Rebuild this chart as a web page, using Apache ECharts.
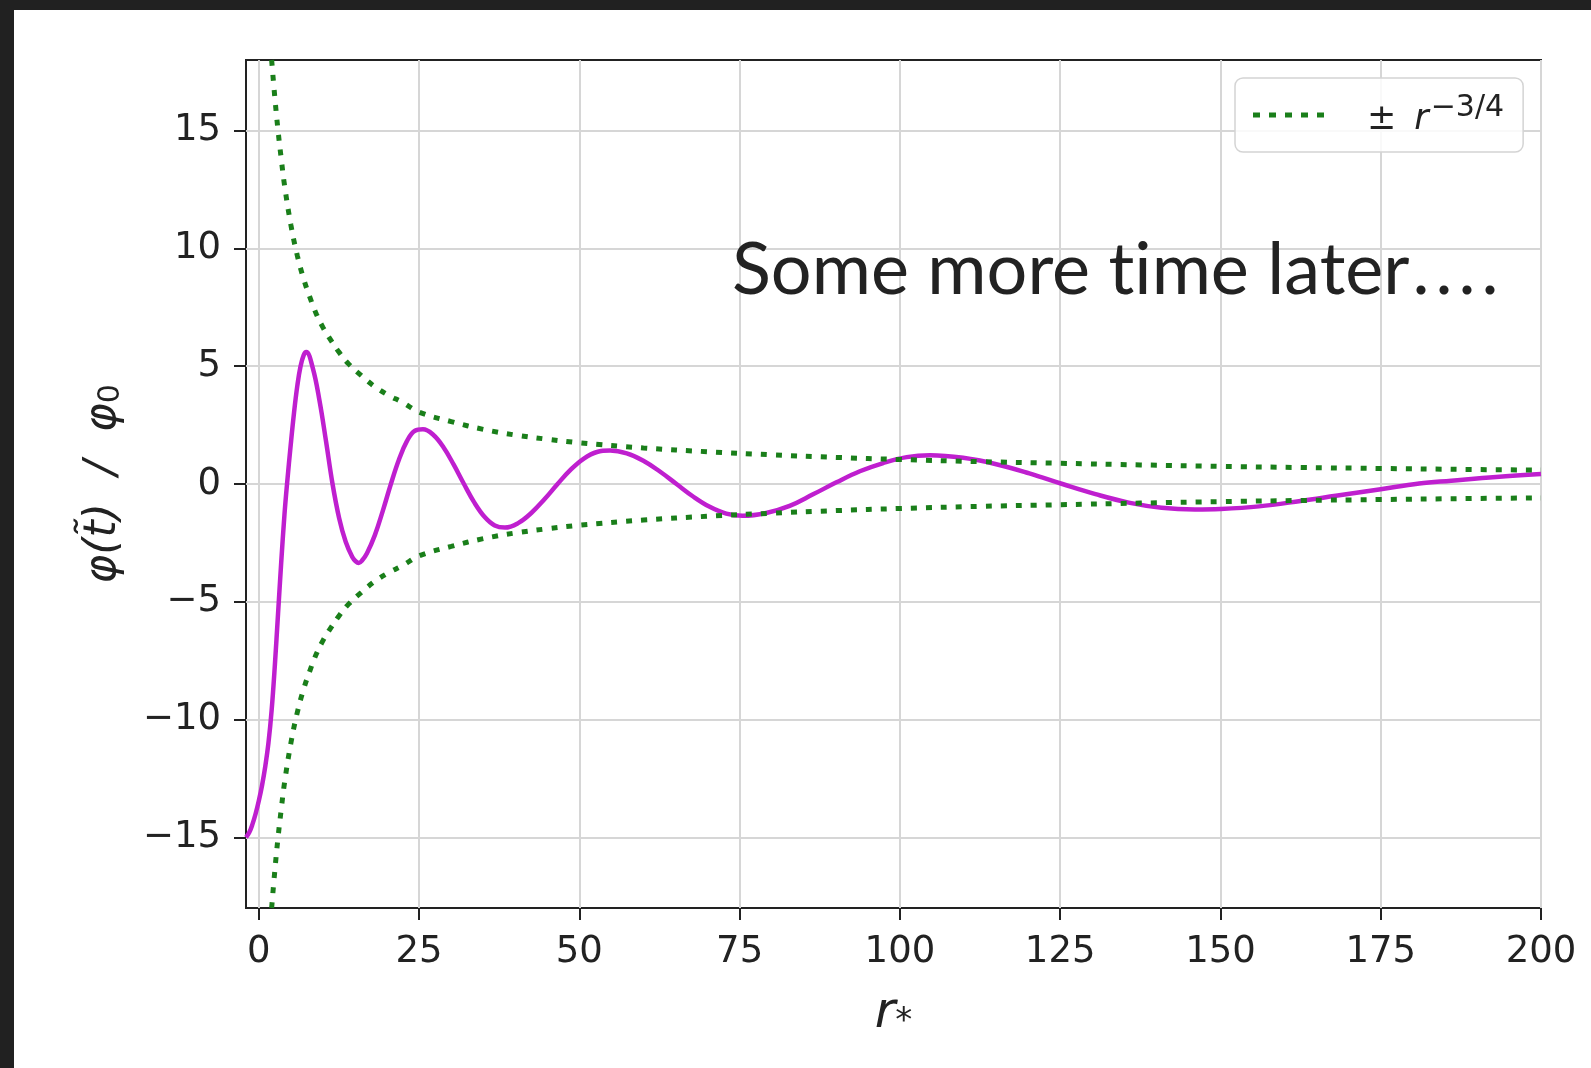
<!DOCTYPE html>
<html>
<head>
<meta charset="utf-8">
<title>phi over r*</title>
<script src="https://cdn.jsdelivr.net/npm/echarts@6.0.0/dist/echarts.min.js"></script>
<style>
  html, body {
    margin: 0;
    padding: 0;
    width: 1591px;
    height: 1068px;
    background: #212121;
    overflow: hidden;
  }
  #main {
    position: absolute;
    left: 14px;
    top: 10px;
    width: 1577px;
    height: 1058px;
    background: #ffffff;
  }
</style>
</head>
<body>
<div id="main"></div>
<script>
// tick positions
const xTicks = [0, 25, 50, 75, 100, 125, 150, 175, 200];
const yTicks = [-15, -10, -5, 0, 5, 10, 15];

// magenta curve
const purpleR = [-2, -1.5, -1, -0.5, 0, 0.5, 1, 1.5, 2, 2.5, 3, 3.5, 4, 4.4, 5, 5.5, 6, 6.5, 7, 7.4,
  8.43, 9.45, 10.48, 11.5, 12.53, 13.55, 14.58, 15.1, 15.6, 16.1,
  16.85, 18.1, 19.35, 20.6, 21.85, 23.1, 24.35, 25.6,
  27.2, 28.8, 30.4, 32.0, 33.6, 35.2, 36.8, 38.4,
  40.45, 42.5, 44.55, 46.6, 48.65, 50.7, 52.75, 54.8,
  57.39, 59.98, 62.56, 65.15, 67.74, 70.33, 72.91, 75.5,
  79.15, 82.8, 86.45, 90.1, 93.75, 97.4, 101.05, 104.7,
  109.86, 115.03, 120.19, 125.35, 130.51, 135.68, 140.84, 146,
  150, 156, 162.5, 168, 175, 181, 186, 193, 200];
const purpleVal = [-15, -14.8, -14.45, -14.0, -13.45, -12.8, -12.0, -11.0, -9.6, -7.7, -5.5, -3.3, -1.3, 0, 1.73, 3.05, 4.16, 4.99, 5.47, 5.6,
  4.91, 3.56, 1.82, 0, -1.45, -2.45, -3.1, -3.28, -3.35, -3.25,
  -2.95, -2.17, -1.13, 0, 1.03, 1.82, 2.26, 2.32,
  2.09, 1.56, 0.82, 0, -0.78, -1.39, -1.76, -1.85,
  -1.66, -1.23, -0.65, 0, 0.61, 1.08, 1.36, 1.42,
  1.3, 0.99, 0.53, 0, -0.53, -0.97, -1.26, -1.35,
  -1.23, -0.93, -0.44, 0.07, 0.54, 0.89, 1.14, 1.22,
  1.11, 0.84, 0.45, 0, -0.43, -0.79, -1.01, -1.08,
  -1.06, -0.95, -0.72, -0.5, -0.22, 0.02, 0.14, 0.3, 0.42];

// green dotted envelope
const greenR = [2, 2.5, 3, 3.5, 4, 5, 6, 7, 8, 9, 10, 11, 12.5, 14, 16, 18, 20, 22.5, 25, 30,
  35, 40, 45, 50, 60, 70, 80, 90, 100, 112.5, 125, 137.5, 150, 162.5, 175, 187.5, 200];
const greenUpper = [18, 16.4, 15, 13.8, 12.7, 11, 9.7, 8.7, 7.9, 7.2, 6.65, 6.2, 5.6, 5.1, 4.6, 4.15, 3.8, 3.45, 3.05, 2.65,
  2.32, 2.08, 1.9, 1.75, 1.53, 1.37, 1.24, 1.13, 1.04, 0.95, 0.88, 0.81, 0.75, 0.7, 0.66, 0.62, 0.59];
const greenLower = [-18, -16.4, -15, -13.8, -12.7, -11, -9.7, -8.7, -7.9, -7.2, -6.65, -6.2, -5.6, -5.1, -4.6, -4.15, -3.8, -3.45, -3.05, -2.65,
  -2.32, -2.08, -1.9, -1.75, -1.53, -1.37, -1.24, -1.13, -1.04, -0.95, -0.88, -0.81, -0.75, -0.7, -0.66, -0.62, -0.59];

const envName = 'env';
const font = 'DejaVu Sans';
const purple = '#bf1fcf';
const green = '#1a7f1a';
const dash = [6, 9];

function pairs(xs, ys) {
  return xs.map((x, i) => [x, ys[i]]);
}

function minusLabel(v) {
  return v < 0 ? '\u2212' + (-v) : String(v);
}

const chart = echarts.init(document.getElementById('main'), null, { renderer: 'canvas' });

const option = {
  animation: false,
  backgroundColor: '#ffffff',
  grid: {
    left: 232,
    top: 50,
    width: 1295,
    height: 848,
    show: true,
    borderColor: '#222',
    borderWidth: 2,
    backgroundColor: 'transparent',
    containLabel: false,
    outerBoundsMode: 'none'
  },
  legend: {
    // legend key drawn as five green dots, like the dotted line
    data: [{ name: envName, icon: 'path://M0,0h7v5h-7zM16,0h7v5h-7zM32,0h7v5h-7zM48,0h7v5h-7zM64,0h7v5h-7z' }],
    left: 1221,
    top: 68,
    orient: 'horizontal',
    itemWidth: 75,
    itemHeight: 5,
    padding: [15, 19, 15, 18],
    backgroundColor: 'rgba(255,255,255,0.85)',
    borderColor: '#d4d4d4',
    borderWidth: 1.5,
    borderRadius: 8,
    selectedMode: false,
    itemStyle: { color: green, borderWidth: 0 },
    formatter: () => '{pm|\u00b1}{r|r}{sup|\u22123/4}',
    textStyle: {
      color: '#222',
      fontFamily: font,
      rich: {
        pm: { fontSize: 35, fontFamily: font, color: '#222', padding: [0, 18, 0, 36], lineHeight: 44, verticalAlign: 'bottom' },
        r: { fontSize: 35, fontFamily: font, fontStyle: 'italic', color: '#222', padding: [0, 2, 0, 0], lineHeight: 44, verticalAlign: 'bottom' },
        sup: { fontSize: 30, fontFamily: font, color: '#222', lineHeight: 28, verticalAlign: 'top' }
      }
    }
  },
  xAxis: {
    type: 'value',
    min: -2,
    max: 200,
    name: '{r|r}{s|*}',
    nameLocation: 'middle',
    nameGap: 77,
    nameTextStyle: {
      rich: {
        r: { fontSize: 50, fontFamily: font, fontStyle: 'italic', color: '#222', lineHeight: 54, verticalAlign: 'bottom' },
        s: { fontSize: 34, fontFamily: font, color: '#222', lineHeight: 32, verticalAlign: 'bottom' }
      }
    },
    axisLine: { show: false, onZero: false },
    axisTick: {
      show: true,
      inside: false,
      length: 12,
      customValues: xTicks,
      lineStyle: { color: '#222', width: 2 }
    },
    axisLabel: {
      customValues: xTicks,
      margin: 26,
      fontSize: 37,
      fontFamily: font,
      color: '#222',
      formatter: minusLabel
    },
    splitLine: {
      show: true,
      lineStyle: { color: '#d6d6d6', width: 2 }
    }
  },
  yAxis: {
    type: 'value',
    min: -18,
    max: 18,
    name: '{a|\u03c6(t\u0303)  /  \u03c6}{b|0}',
    nameLocation: 'middle',
    nameRotate: 90,
    nameGap: 120,
    nameTextStyle: {
      rich: {
        a: { fontSize: 44, fontFamily: font, fontStyle: 'italic', color: '#222', lineHeight: 50, verticalAlign: 'bottom' },
        b: { fontSize: 30, fontFamily: font, color: '#222', lineHeight: 36, verticalAlign: 'bottom' }
      }
    },
    axisLine: { show: false, onZero: false },
    axisTick: {
      show: true,
      inside: false,
      length: 12,
      customValues: yTicks,
      lineStyle: { color: '#222', width: 2 }
    },
    axisLabel: {
      customValues: yTicks,
      margin: 25,
      fontSize: 37,
      fontFamily: font,
      color: '#222',
      formatter: minusLabel
    },
    splitLine: {
      show: true,
      lineStyle: { color: '#d6d6d6', width: 2 }
    }
  },
  graphic: [
    {
      type: 'text',
      left: 718,
      top: 225,
      z: 100,
      style: {
        // zero-width non-joiner keeps "ti" from becoming a ligature
        text: '{t|Some more t\u200cime later}{d|.}{d|.}{d|.}{d|.}',
        rich: {
          t: { fontSize: 72, fontFamily: 'Lato', fill: '#222', color: '#222' },
          d: { fontSize: 72, fontFamily: 'Lato', fill: '#222', color: '#222', padding: [0, 3, 0, 3] }
        }
      }
    }
  ],
  series: [
    {
      name: 'phi',
      type: 'line',
      data: pairs(purpleR, purpleVal),
      showSymbol: false,
      symbol: 'none',
      smooth: 0.4,
      clip: true,
      lineStyle: { color: purple, width: 4.5 },
      z: 3
    },
    {
      name: envName,
      type: 'line',
      data: pairs(greenR, greenUpper),
      showSymbol: false,
      symbol: 'none',
      smooth: 0.4,
      clip: true,
      itemStyle: { color: green },
      lineStyle: { color: green, width: 5, type: dash },
      z: 4
    },
    {
      name: envName,
      type: 'line',
      data: pairs(greenR, greenLower),
      showSymbol: false,
      symbol: 'none',
      smooth: 0.4,
      clip: true,
      itemStyle: { color: green },
      lineStyle: { color: green, width: 5, type: dash },
      z: 4
    }
  ]
};

chart.setOption(option);
</script>
</body>
</html>
